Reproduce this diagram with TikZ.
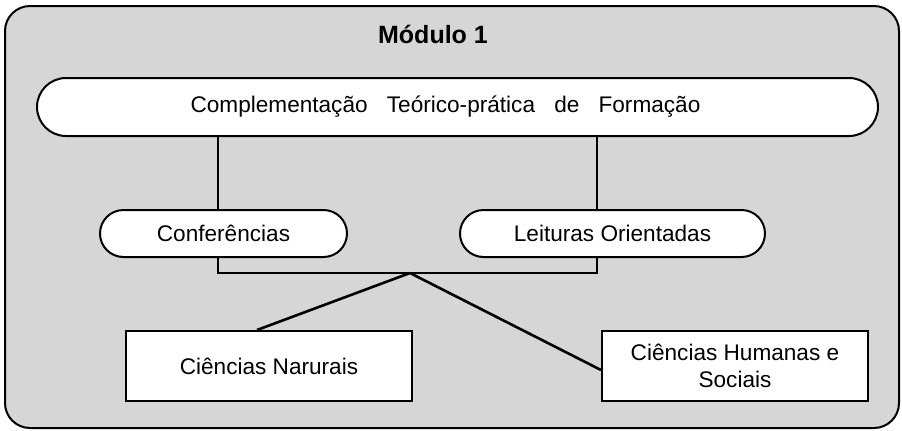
\documentclass[tikz,border=0pt]{standalone}
\usepackage{fontspec}
\setmainfont{Liberation Sans}
\usetikzlibrary{shapes.misc}

\begin{document}
\begin{tikzpicture}[x=0.5pt,y=-0.5pt,line width=1pt,font=\fontsize{11.3}{13.5}\selectfont,
   pill/.style n args={2}{rounded rectangle,draw,fill=white,minimum width=#1pt,minimum height=#2pt,inner sep=0pt},
   area/.style n args={2}{rectangle,draw,fill=white,minimum width=#1pt,minimum height=#2pt,inner sep=0pt,align=center},
   link/.style={line width=1.3pt}]
\useasboundingbox (0,0) rectangle (902,430);
\draw[fill=black!16,rounded corners=12.5pt] (5,6) rectangle (899,428);
\node[font=\fontsize{12.5}{15}\selectfont\bfseries] (titulo) at (433,34) {Módulo 1};
\node[pill={420.5}{29}] (comp) at (457.5,107)
   {Complementação\hspace{0.85em}Teórico-prática\hspace{0.85em}de\hspace{0.85em}Formação\kern12pt};
\node[pill={123.5}{23.5}] (conf) at (223.5,233.5) {Conferências};
\node[pill={152.5}{23.5}] (leit) at (612.5,233.5) {Leituras Orientadas};
\node[area={143}{35}] (nat) at (269,366) {Ciências Narurais};
\node[area={133}{35}] (hum) at (735,366) {Ciências Humanas e\\Sociais};
% bracket under the two pills
\coordinate (j1) at (218,273);
\coordinate (j2) at (597,273);
\coordinate (hub) at (410,273);
\draw[link] (comp.south -| j1) -- (conf.north -| j1);
\draw[link] (comp.south -| j2) -- (leit.north -| j2);
\draw[link] (conf.south -| j1) -- (j1) -- (j2) -- (leit.south -| j2);
\draw[link] (hub) -- ([xshift=-6pt]nat.north);
\draw[link] (hub) -- ([yshift=-2pt]hum.west);
\end{tikzpicture}
\end{document}
